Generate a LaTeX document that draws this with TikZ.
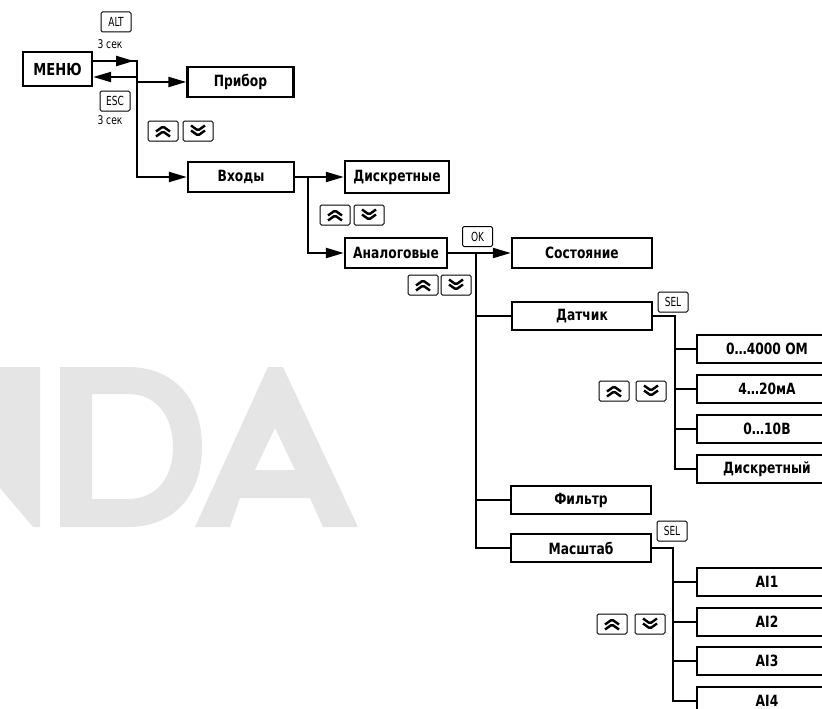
\documentclass[tikz,border=0pt]{standalone}
\usepackage{fontspec}
\newfontfamily\cond[FakeStretch=0.88]{DejaVu Sans Condensed}
\newfontfamily\keyf[FakeStretch=0.8]{DejaVu Sans Condensed}
\newfontfamily\labf[FakeStretch=0.85]{DejaVu Sans Condensed}
\usetikzlibrary{arrows.meta}
\definecolor{wm}{RGB}{229,229,229}
\begin{document}
\begin{tikzpicture}[x=1pt,y=-1pt,
  box/.style={draw, line width=2.4pt, minimum height=30pt, inner sep=0pt,
    font=\cond\bfseries\fontsize{15.5}{15.5}\selectfont},
  conn/.style={line width=2.2pt},
  arr/.style={-{Triangle[length=18pt,width=10pt]}},
  keybox/.style={draw, line width=1pt, rounded corners=1.5pt, minimum width=30pt,
    minimum height=20pt, inner sep=0pt, font=\keyf\fontsize{12.5}{12.5}\selectfont},
  chev/.style={line width=2.4pt, line join=miter},
  upkey/.style={keybox, path picture={
    \draw[chev] ([shift={(-7pt,-0.5pt)}]path picture bounding box.center) -- ++(7pt,5pt) -- ++(7pt,-5pt);
    \draw[chev] ([shift={(-7pt,-5.5pt)}]path picture bounding box.center) -- ++(7pt,5pt) -- ++(7pt,-5pt);}},
  downkey/.style={keybox, path picture={
    \draw[chev] ([shift={(-7pt,5.5pt)}]path picture bounding box.center) -- ++(7pt,-5pt) -- ++(7pt,5pt);
    \draw[chev] ([shift={(-7pt,0.5pt)}]path picture bounding box.center) -- ++(7pt,-5pt) -- ++(7pt,5pt);}},
  lbl/.style={inner sep=0pt, font=\labf\fontsize{12}{12}\selectfont},
]
\useasboundingbox (0,0) rectangle (822,709);
\clip (0,0) rectangle (822,709);

% watermark
\fill[wm] (0,367) -- (40,367) -- (40,527) -- (33,527) -- (0,488) -- cycle;
\fill[wm, even odd rule] (60,367) -- (128,367) .. controls (175,367) and (202,400) .. (202,447)
  .. controls (202,494) and (175,527) .. (128,527) -- (60,527) -- cycle
  (92,394) -- (128,394) .. controls (157,394) and (173,417) .. (173,447)
  .. controls (173,477) and (157,499) .. (128,499) -- (92,499) -- cycle;
\fill[wm, even odd rule] (195,527) -- (268,367) -- (283,367) -- (358,527) -- (323,527)
  -- (310,498) -- (240,498) -- (230,527) -- cycle
  (255,470) -- (275,428) -- (295,470) -- cycle;

% level 1
\node[box, minimum width=69pt, minimum height=34pt, font=\cond\bfseries\fontsize{16.5}{16.5}\selectfont] (menu) at (57.5,69) {МЕНЮ};
\node[keybox] (alt) at (116,22) {ALT};
\node[lbl] (t1) at (110,44) {3 сек};
\node[keybox] (esc) at (115,101) {ESC};
\node[lbl] (t2) at (110,120) {3 сек};
\node[box, minimum width=106pt] (pribor) at (240.5,82) {Прибор};
\node[upkey] (u1) at (163,131) {};
\node[downkey] (d1) at (198,131) {};
\node[box, minimum width=106pt] (vhody) at (241,177) {Входы};

% level 2
\node[box, minimum width=104pt, minimum height=32pt] (diskr) at (397,177) {Дискретные};
\node[upkey] (u2) at (335,215) {};
\node[downkey] (d2) at (369,215) {};
\node[box, minimum width=102pt] (analog) at (396,253) {Аналоговые};
\node[upkey] (u3) at (423,285) {};
\node[downkey] (d3) at (456,285) {};
\node[keybox] (ok) at (477.5,236.5) {OK};

% level 3
\node[box, minimum width=140pt] (sost) at (582,253) {Состояние};
\node[box, minimum width=140pt, minimum height=28pt] (datchik) at (582,316) {Датчик};
\node[keybox] (sel1) at (673,302) {SEL};
\node[box, minimum width=140pt, minimum height=28pt] (filtr) at (581,500) {Фильтр};
\node[box, minimum width=140pt, minimum height=28pt] (masht) at (581,548) {Масштаб};
\node[keybox] (sel2) at (672,531) {SEL};

% level 4
\node[box, minimum width=140pt, minimum height=28pt] (r1) at (767,349) {0…4000 ОМ};
\node[box, minimum width=140pt, minimum height=28pt] (r2) at (767,389) {4…20мА};
\node[box, minimum width=140pt, minimum height=28pt] (r3) at (767,429) {0…10В};
\node[box, minimum width=140pt, minimum height=28pt] (r4) at (767,469) {Дискретный};
\node[upkey] (u4) at (614,391) {};
\node[downkey] (d4) at (651,391) {};
\node[box, minimum width=140pt, minimum height=28pt] (a1) at (767,582) {AI1};
\node[box, minimum width=140pt, minimum height=28pt] (a2) at (767,622) {AI2};
\node[box, minimum width=140pt, minimum height=28pt] (a3) at (767,661) {AI3};
\node[box, minimum width=140pt, minimum height=28pt] (a4) at (767,701) {AI4};
\node[upkey] (u5) at (612,624) {};
\node[downkey] (d5) at (650,624) {};

% connectors level 1
\coordinate (ja) at (137,61);
\coordinate (jc) at (137,82);
\coordinate (jd) at (137,77);
\draw[conn,arr] ([yshift=8pt]menu.east) -- ([xshift=-3pt]ja);
\draw[conn,arr] ([xshift=-8pt]ja) -- (ja) |- (vhody.west);
\draw[conn,arr] (jc) -- (pribor.west);
\draw[conn,arr] (jd) -- ([yshift=-8pt]menu.east);

% level 2
\coordinate (ka) at (308,177);
\draw[conn,arr] (vhody.east) -- (diskr.west);
\draw[conn,arr] (ka) |- (analog.west);

% level 3
\coordinate (ma) at (476,253);
\draw[conn,arr] (analog.east) -- (sost.west);
\draw[conn] (ma) |- (masht.west);
\draw[conn] (ma |- datchik.west) -- (datchik.west);
\draw[conn] (ma |- filtr.west) -- (filtr.west);

% level 4
\coordinate (na) at (675,316);
\draw[conn] (datchik.east) -| (na |- r4.west) -- (r4.west);
\draw[conn] (na |- r1.west) -- (r1.west);
\draw[conn] (na |- r2.west) -- (r2.west);
\draw[conn] (na |- r3.west) -- (r3.west);
\coordinate (pa) at (673,548);
\draw[conn] (masht.east) -| (pa |- a4.west) -- (a4.west);
\draw[conn] (pa |- a1.west) -- (a1.west);
\draw[conn] (pa |- a2.west) -- (a2.west);
\draw[conn] (pa |- a3.west) -- (a3.west);
\end{tikzpicture}
\end{document}
